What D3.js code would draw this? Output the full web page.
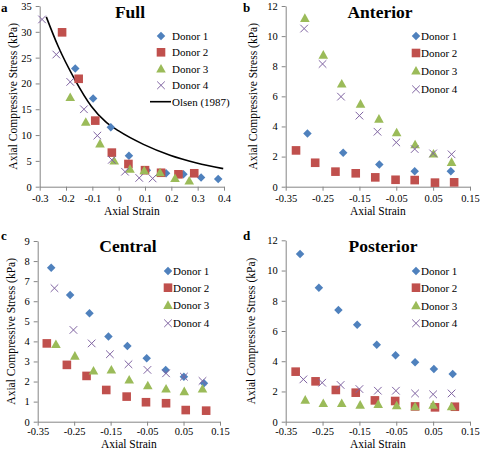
<!DOCTYPE html>
<html><head><meta charset="utf-8">
<script src="https://cdn.jsdelivr.net/npm/d3@7"></script>
<style>
html,body{margin:0;padding:0;background:#fff;}
text{font-family:"Liberation Serif","Times New Roman",serif;fill:#000;}
</style></head>
<body>
<svg id="chart" width="480" height="449"></svg>
<script>
// ---------- DATA ----------
const donorNames = ["Donor 1","Donor 2","Donor 3","Donor 4"];
const olsenName = "Olsen (1987)";
const xLabel = "Axial Strain";
const yLabel = "Axial Compressive Stress (kPa)";

// Panel a: Full  [strain, stress]
const fullD1 = [[-0.165,22.9],[-0.097,17.1],[-0.030,11.5],[0.039,6.0],[0.107,3.2],[0.180,2.6],[0.246,2.4],[0.313,1.8],[0.378,1.5]];
const fullD2 = [[-0.215,29.9],[-0.152,20.9],[-0.089,12.8],[-0.026,6.6],[0.037,4.4],[0.100,3.2],[0.161,2.7],[0.227,2.4],[0.287,2.6]];
const fullD3 = [[-0.184,17.3],[-0.125,12.5],[-0.071,8.3],[-0.017,5.0],[0.043,3.4],[0.097,3.1],[0.157,2.7],[0.214,1.6],[0.268,1.1]];
const fullD4 = [[-0.291,32.4],[-0.237,25.6],[-0.184,20.3],[-0.132,15.0],[-0.081,9.9],[-0.026,5.2],[0.024,2.9],[0.078,1.7],[0.129,1.6]];
const olsen  = [[-0.275,32.9],[-0.23,27.2],[-0.167,20.8],[-0.104,15.6],[-0.05,12.6],[0,10.8],[0.094,8.2],[0.195,6.1],[0.296,4.6],[0.397,3.5]];

// Panel b: Anterior
const antD1 = [[-0.291,3.54],[-0.194,2.26],[-0.096,1.48],[0.0,1.02],[0.098,1.02]];
const antD2 = [[-0.322,2.41],[-0.270,1.59],[-0.215,1.0],[-0.160,0.89],[-0.107,0.62],[-0.052,0.46],[0.0,0.44],[0.055,0.27],[0.107,0.29]];
const antD3 = [[-0.298,11.18],[-0.248,8.74],[-0.198,6.82],[-0.147,5.49],[-0.097,4.49],[-0.049,3.59],[0.001,2.79],[0.051,2.17],[0.100,1.62]];
const antD4 = [[-0.300,10.5],[-0.250,8.15],[-0.200,5.98],[-0.150,4.72],[-0.101,3.65],[-0.050,2.94],[0.0,2.5],[0.050,2.21],[0.100,2.15]];

// Panel c: Central
const cenD1 = [[-0.313,7.67],[-0.261,6.31],[-0.208,5.40],[-0.156,4.24],[-0.104,3.77],[-0.051,3.16],[0.001,2.58],[0.051,2.24],[0.106,1.91]];
const cenD2 = [[-0.325,3.90],[-0.270,2.83],[-0.216,2.28],[-0.162,1.58],[-0.106,1.25],[-0.053,0.97],[0.002,0.92],[0.056,0.58],[0.112,0.55]];
const cenD3 = [[-0.300,3.85],[-0.248,3.27],[-0.197,2.53],[-0.148,2.58],[-0.099,2.08],[-0.048,1.79],[0.002,1.63],[0.052,1.50],[0.102,1.63]];
const cenD4 = [[-0.304,6.65],[-0.252,4.57],[-0.202,3.90],[-0.152,3.36],[-0.101,2.86],[-0.049,2.58],[0.002,2.41],[0.051,2.24],[0.102,2.03]];

// Panel d: Posterior
const posD1 = [[-0.311,11.09],[-0.260,8.86],[-0.207,7.39],[-0.156,6.42],[-0.103,5.09],[-0.052,4.39],[0.001,3.93],[0.052,3.49],[0.103,3.15]];
const posD2 = [[-0.323,3.31],[-0.269,2.67],[-0.214,2.10],[-0.160,1.92],[-0.108,1.41],[-0.053,1.37],[0.001,1.01],[0.055,0.95],[0.109,0.99]];
const posD3 = [[-0.297,1.43],[-0.248,1.21],[-0.198,1.21],[-0.148,1.10],[-0.099,1.15],[-0.049,1.06],[0.001,0.99],[0.050,1.10],[0.100,0.99]];
const posD4 = [[-0.302,2.80],[-0.251,2.58],[-0.201,2.43],[-0.150,2.16],[-0.100,2.05],[-0.051,2.05],[0.001,1.87],[0.050,1.81],[0.100,1.87]];

const fullXTicks = [-0.3,-0.2,-0.1,0,0.1,0.2,0.3,0.4];
const fullYTicks = [0,5,10,15,20,25,30,35];
const regXTicks = [-0.35,-0.25,-0.15,-0.05,0.05,0.15];
const antYTicks = [0,2,4,6,8,10,12];
const cenYTicks = [0,1,2,3,4,5,6,7,8,9];
const posYTicks = [0,2,4,6,8,10,12];

// ---------- STYLE ----------
const colors = ["#4F81BD","#C0504D","#9BBB59","#8064A2"];
const axisColor = "#868686";
const serif = '"Liberation Serif","Times New Roman",serif';
const svg = d3.select("#chart");

function marker(g, type, x, y, color){
  if(type===0){ // diamond
    g.append("path").attr("d",d3.symbol(d3.symbolDiamond2,46)()).attr("transform",`translate(${x},${y})`).attr("fill",color);
  } else if(type===1){ // square
    g.append("rect").attr("x",x-4.3).attr("y",y-4.3).attr("width",8.6).attr("height",8.6).attr("fill",color);
  } else if(type===2){ // triangle
    g.append("path").attr("d",`M${x},${y-5}L${x+4.8},${y+3.6}L${x-4.8},${y+3.6}Z`).attr("fill",color);
  } else { // x
    g.append("path").attr("d",`M${x-3.8},${y-3.8}L${x+3.8},${y+3.8}M${x-3.8},${y+3.8}L${x+3.8},${y-3.8}`)
      .attr("stroke",color).attr("stroke-width",1).attr("fill","none");
  }
}

function panel(cfg){
  const g = svg.append("g");
  const x = d3.scaleLinear().domain(cfg.xDomain).range([cfg.left,cfg.right]);
  const y = d3.scaleLinear().domain(cfg.yDomain).range([cfg.bottom,cfg.top]);

  const xAxis = g.append("g").attr("transform",`translate(0,${cfg.bottom})`)
    .call(d3.axisBottom(x).tickValues(cfg.xTicks).tickSize(4).tickPadding(cfg.xPad).tickSizeOuter(0)
      .tickFormat(d=> d===0?"0":String(+d.toFixed(2))));
  const yAxis = g.append("g").attr("transform",`translate(${cfg.left},0)`)
    .call(d3.axisLeft(y).tickValues(cfg.yTicks).tickSize(4).tickPadding(4).tickSizeOuter(0));
  [xAxis,yAxis].forEach(a=>{
    a.attr("font-family",serif);
    a.select(".domain").attr("stroke",axisColor);
    a.selectAll(".tick line").attr("stroke",axisColor);
    a.selectAll("text").attr("font-size","10.5px").attr("fill","#000");
  });

  // axis titles
  g.append("text").attr("x",(cfg.left+cfg.right)/2).attr("y",cfg.xTitleY).attr("text-anchor","middle")
    .attr("font-size","11.5px").text(xLabel);
  g.append("text").attr("transform",`translate(${cfg.yTitleX},${(cfg.top+cfg.bottom)/2}) rotate(-90)`)
    .attr("text-anchor","middle").attr("font-size","11.5px").text(yLabel);
  // title
  g.append("text").attr("x",cfg.titleX).attr("y",cfg.titleY).attr("text-anchor","middle")
    .attr("font-size","17.5px").attr("font-weight","bold").text(cfg.title);
  // letter
  g.append("text").attr("x",cfg.letterX).attr("y",cfg.letterY)
    .attr("font-size","13px").attr("font-weight","bold").text(cfg.letter);

  // extra line (Olsen)
  if(cfg.line){
    g.append("path").datum(cfg.line)
      .attr("d",d3.line().x(d=>x(d[0])).y(d=>y(d[1])).curve(d3.curveMonotoneX))
      .attr("fill","none").attr("stroke","#000").attr("stroke-width",1.6);
  }
  // points
  cfg.series.forEach((s,i)=>{
    s.forEach(d=>marker(g,i,x(d[0]),y(d[1]),colors[i]));
  });
  // legend
  donorNames.forEach((n,i)=>{
    const ly = cfg.legY[i];
    marker(g,i,cfg.legMX,ly,colors[i]);
    g.append("text").attr("x",cfg.legTX).attr("y",ly).attr("dy","0.35em").attr("font-size","11px").text(n);
  });
  if(cfg.line){
    const ly = cfg.legY[4];
    g.append("line").attr("x1",cfg.legMX-11).attr("x2",cfg.legTX-1).attr("y1",ly).attr("y2",ly)
      .attr("stroke","#000").attr("stroke-width",1.6);
    g.append("text").attr("x",cfg.legTX).attr("y",ly).attr("dy","0.35em").attr("font-size","11px").text(olsenName);
  }
}

panel({xDomain:[-0.3,0.4],yDomain:[0,35],left:39.7,right:224,top:6,bottom:186.7,xPad:4,
  xTicks:fullXTicks,yTicks:fullYTicks,xTitleY:214.5,yTitleX:17,title:"Full",titleX:130,titleY:17.5,
  letter:"a",letterX:1,letterY:12,series:[fullD1,fullD2,fullD3,fullD4],line:olsen,
  legMX:161,legTX:172,legY:[36,52.3,69,85.3,101.7]});
panel({xDomain:[-0.35,0.15],yDomain:[0,12],left:285.7,right:470,top:6,bottom:186.7,xPad:4,
  xTicks:regXTicks,yTicks:antYTicks,xTitleY:214.5,yTitleX:257,title:"Anterior",titleX:380,titleY:17.5,
  letter:"b",letterX:243,letterY:12,series:[antD1,antD2,antD3,antD4],
  legMX:416,legTX:421,legY:[36,53,71,89.3]});
panel({xDomain:[-0.35,0.15],yDomain:[0,9],left:37.7,right:220,top:241,bottom:421.7,xPad:2,
  xTicks:regXTicks,yTicks:cenYTicks,xTitleY:447.5,yTitleX:15,title:"Central",titleX:128,titleY:252,
  letter:"c",letterX:1,letterY:240,series:[cenD1,cenD2,cenD3,cenD4],
  legMX:168,legTX:173,legY:[271,287.7,305.3,323.3]});
panel({xDomain:[-0.35,0.15],yDomain:[0,12],left:285.7,right:470,top:240.3,bottom:421.7,xPad:2,
  xTicks:regXTicks,yTicks:posYTicks,xTitleY:447.5,yTitleX:255,title:"Posterior",titleX:383,titleY:252,
  letter:"d",letterX:243,letterY:240,series:[posD1,posD2,posD3,posD4],
  legMX:416,legTX:421,legY:[271,287.7,305.7,323.3]});

svg.selectAll("text").style("font-family",serif);
</script>
</body></html>
